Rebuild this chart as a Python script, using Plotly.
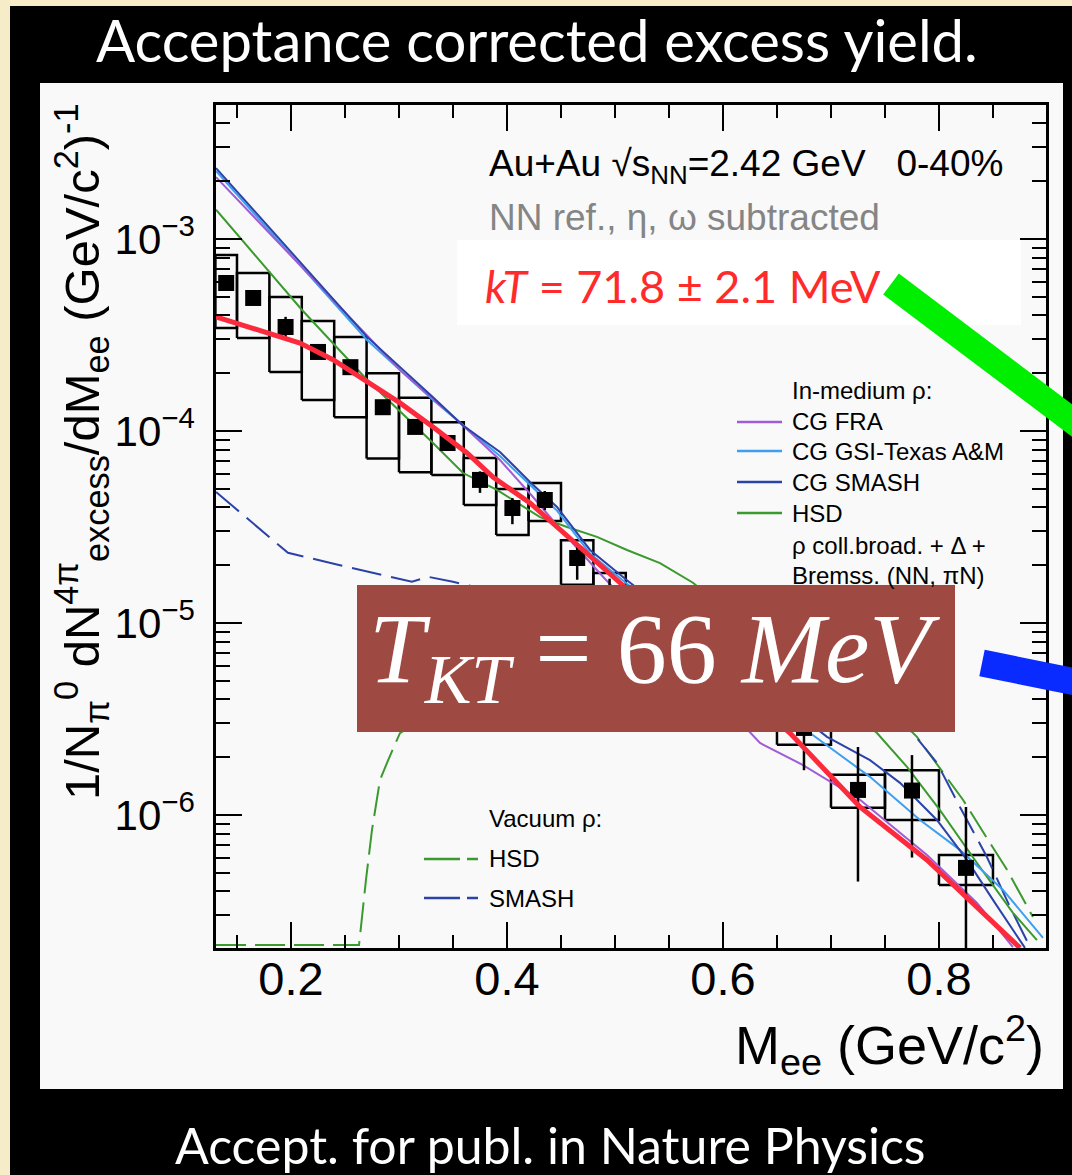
import plotly.graph_objects as go

# ---------------- data ----------------
# measured excess yield points
mass_pts = [0.14, 0.165, 0.195, 0.225, 0.255, 0.285, 0.315, 0.345, 0.375, 0.405,
            0.435, 0.465, 0.495, 0.675, 0.725, 0.775, 0.825]
yield_pts = [5.9e-4, 4.93e-4, 3.48e-4, 2.58e-4, 2.15e-4, 1.33e-4, 1.05e-4, 8.66e-5,
             5.56e-5, 3.97e-5, 4.37e-5, 2.18e-5, 1.40e-5, 2.84e-6, 1.35e-6, 1.34e-6, 5.3e-7]
stat_up = [3.5e-5, 2.5e-5, 4.5e-5, 1.8e-5, 1.5e-5, 1.0e-5, 8e-6, 7e-6, 6e-6, 5e-6,
           5e-6, 4e-6, 3e-6, 1.5e-6, 0.91e-6, 0.71e-6, 5.7e-7]
stat_dn = [3.5e-5, 2.5e-5, 4.0e-5, 1.6e-5, 1.4e-5, 1.0e-5, 8e-6, 7e-6, 8e-6, 7e-6,
           5e-6, 5e-6, 3e-6, 1.13e-6, 0.90e-6, 0.74e-6, 4.9e-7]
bin_half = [0.01, 0.015, 0.015, 0.015, 0.015, 0.015, 0.015, 0.015, 0.015, 0.015,
            0.015, 0.015, 0.015, 0.025, 0.025, 0.025, 0.025]
sys_lo = [3.44e-4, 3.05e-4, 2.03e-4, 1.45e-4, 1.18e-4, 7.2e-5, 6.1e-5, 5.9e-5, 4.12e-5,
          2.87e-5, 3.4e-5, 1.58e-5, 1.0e-5, 2.32e-6, 1.09e-6, 9.4e-7, 4.32e-7]
sys_hi = [8.26e-4, 6.65e-4, 4.99e-4, 3.74e-4, 3.09e-4, 2.0e-4, 1.49e-4, 1.11e-4, 7.23e-5,
          4.99e-5, 5.36e-5, 2.7e-5, 1.82e-5, 3.4e-6, 1.62e-6, 1.71e-6, 6.19e-7]

# thermal fit (kT = 71.8 MeV)
fit_mass = [0.1306, 0.2083, 0.2389, 0.2704, 0.3009, 0.3315, 0.363, 0.387, 0.4213,
            0.5046, 0.662, 0.7269, 0.7889, 0.875]
fit_yield = [3.93e-4, 2.87e-4, 2.35e-4, 1.80e-4, 1.40e-4, 1.05e-4, 7.68e-5, 5.75e-5,
             4.22e-5, 1.62e-5, 2.67e-6, 1.10e-6, 5.83e-7, 2.03e-7]

# in-medium rho models
cg_fra_mass = [0.1306, 0.3009, 0.3537, 0.3935, 0.4241, 0.4556, 0.4889, 0.6343, 0.6741,
               0.7269, 0.7889, 0.8352, 0.8685]
cg_fra_yield = [2.10e-3, 2.08e-4, 1.14e-4, 7.06e-5, 4.53e-5, 2.81e-5, 1.74e-5, 2.37e-6,
                1.82e-6, 1.20e-6, 6.19e-7, 3.48e-7, 2.05e-7]

cg_gsi_mass = [0.1306, 0.2704, 0.3315, 0.3935, 0.4463, 0.4769, 0.5111, 0.6806, 0.7361,
               0.7824, 0.8194, 0.8593, 0.8963]
cg_gsi_yield = [2.26e-3, 2.98e-4, 1.45e-4, 7.4e-5, 3.85e-5, 2.3e-5, 1.6e-5, 2.67e-6,
                1.58e-6, 9.42e-7, 6.58e-7, 4.07e-7, 2.29e-7]

cg_smash_mass = [0.1306, 0.2704, 0.3315, 0.359, 0.3935, 0.4213, 0.4463, 0.4769, 0.5111,
                 0.6963, 0.7361, 0.7639, 0.7981, 0.8259, 0.85, 0.8796]
cg_smash_yield = [2.34e-3, 3.09e-4, 1.50e-4, 1.07e-4, 7.78e-5, 5.42e-5, 4.02e-5, 2.40e-5,
                  1.67e-5, 2.55e-6, 1.93e-6, 1.47e-6, 9.42e-7, 5.83e-7, 3.61e-7, 2.03e-7]

hsd_mass = [0.1306, 0.2102, 0.2704, 0.3315, 0.3593, 0.3907, 0.4306, 0.4556, 0.4833,
            0.5111, 0.5417, 0.5722, 0.7426, 0.7704, 0.8009, 0.8352, 0.8685, 0.8907]
hsd_yield = [1.42e-3, 4.27e-4, 1.85e-4, 8.66e-5, 6.04e-5, 4.93e-5, 3.56e-5, 3.16e-5,
             2.81e-5, 2.40e-5, 2.05e-5, 1.62e-5, 2.67e-6, 1.78e-6, 1.06e-6, 5.62e-7,
             3.09e-7, 2.23e-7]

# vacuum rho models
vac_smash_mass = [0.1306, 0.1972, 0.2454, 0.312, 0.3269, 0.35, 0.45, 0.55, 0.65, 0.72,
                  0.7759, 0.7981, 0.8194, 0.8444, 0.8657, 0.8843]
vac_smash_yield = [4.81e-5, 2.32e-5, 2.00e-5, 1.64e-5, 1.74e-5, 1.64e-5, 1.2e-5, 8e-6,
                   6e-6, 4.5e-6, 2.67e-6, 1.87e-6, 1.10e-6, 6.04e-7, 3.32e-7, 2.05e-7]

vac_hsd_mass = [0.1306, 0.263, 0.2694, 0.275, 0.2824, 0.2889, 0.3009, 0.35, 0.45, 0.55,
                0.65, 0.72, 0.7796, 0.8222, 0.8472, 0.863, 0.887]
vac_hsd_yield = [2.1e-7, 2.1e-7, 4.58e-7, 8.36e-7, 1.52e-6, 1.87e-6, 2.67e-6, 4e-6, 6e-6,
                 7e-6, 7e-6, 5.5e-6, 2.55e-6, 1.20e-6, 7.15e-7, 5.18e-7, 2.94e-7]

x_ticks = [0.2, 0.4, 0.6, 0.8]
x_tick_text = ["0.2", "0.4", "0.6", "0.8"]
y_ticks = [1e-6, 1e-5, 1e-4, 1e-3]
y_tick_text = ["10<sup>\u22126</sup>", "10<sup>\u22125</sup>", "10<sup>\u22124</sup>",
               "10<sup>\u22123</sup>"]
y_minor = [k * 10.0 ** d for d in range(-7, -2) for k in range(2, 10)
           if 2.05e-7 < k * 10.0 ** d < 5e-3]

# ---------------- layout geometry (pixels) ----------------
W, H = 1072, 1175
PL, PR, PT, PB = 216, 1046, 105, 948


def fx(px):
    return (px - PL) / (PR - PL)


def fy(py):
    return (PB - py) / (PB - PT)


C_FRA = "#9f5cd6"
C_GSI = "#3d9ff0"
C_SMASH = "#2b43a6"
C_HSD = "#3a9a2e"
C_FIT = "#fb2a3c"
SANS = "Liberation Sans, Arial, sans-serif"

fig = go.Figure()

# systematic boxes
bx, by = [], []
for m, h, lo, hi in zip(mass_pts, bin_half, sys_lo, sys_hi):
    bx += [m - h, m + h, m + h, m - h, m - h, None]
    by += [lo, lo, hi, hi, lo, None]
fig.add_trace(go.Scatter(x=bx, y=by, mode="lines", line=dict(color="black", width=2.5),
                         hoverinfo="skip"))

# vacuum curves (dashed)
fig.add_trace(go.Scatter(x=vac_hsd_mass, y=vac_hsd_yield, mode="lines",
                         line=dict(color=C_HSD, width=2, dash="30px,9px")))
fig.add_trace(go.Scatter(x=vac_smash_mass, y=vac_smash_yield, mode="lines",
                         line=dict(color=C_SMASH, width=2, dash="30px,10px")))
# in-medium curves
fig.add_trace(go.Scatter(x=hsd_mass, y=hsd_yield, mode="lines",
                         line=dict(color=C_HSD, width=2)))
fig.add_trace(go.Scatter(x=cg_gsi_mass, y=cg_gsi_yield, mode="lines",
                         line=dict(color=C_GSI, width=2)))
fig.add_trace(go.Scatter(x=cg_fra_mass, y=cg_fra_yield, mode="lines",
                         line=dict(color=C_FRA, width=2)))
fig.add_trace(go.Scatter(x=cg_smash_mass, y=cg_smash_yield, mode="lines",
                         line=dict(color=C_SMASH, width=2)))

# data points
fig.add_trace(go.Scatter(
    x=mass_pts, y=yield_pts, mode="markers",
    marker=dict(symbol="square", size=16, color="black"),
    error_y=dict(type="data", symmetric=False, array=stat_up, arrayminus=stat_dn,
                 thickness=2.5, width=0, color="black")))

# thermal fit
fig.add_trace(go.Scatter(x=fit_mass, y=fit_yield, mode="lines",
                         line=dict(color=C_FIT, width=5)))

shapes = [
    dict(type="rect", xref="paper", yref="paper", x0=fx(10), x1=fx(1090),
         y0=fy(1190), y1=fy(6), fillcolor="black", line_width=0, layer="below"),
    dict(type="rect", xref="paper", yref="paper", x0=fx(40), x1=fx(1063),
         y0=fy(1089), y1=fy(83), fillcolor="#f9f9f9", line_width=0, layer="below"),
    dict(type="rect", xref="paper", yref="paper", x0=fx(457), x1=fx(1021),
         y0=fy(325), y1=fy(240), fillcolor="white", line_width=0, layer="above"),
    dict(type="rect", xref="paper", yref="paper", x0=fx(357), x1=fx(955),
         y0=fy(732), y1=fy(585), fillcolor="#9e4a43", line_width=0, layer="above"),
    dict(type="line", xref="paper", yref="paper", x0=fx(891), y0=fy(284),
         x1=fx(1090), y1=fy(434), line=dict(color="#00ee00", width=26), layer="above"),
    dict(type="line", xref="paper", yref="paper", x0=fx(982), y0=fy(663),
         x1=fx(1090), y1=fy(685), line=dict(color="#0a2bff", width=27), layer="above"),
]
# legend sample lines
for yy, col in [(422, C_FRA), (451, C_GSI), (482, C_SMASH), (513, C_HSD)]:
    shapes.append(dict(type="line", xref="paper", yref="paper", x0=fx(737), x1=fx(782),
                       y0=fy(yy), y1=fy(yy), line=dict(color=col, width=2.5), layer="above"))
for yy, col in [(859, C_HSD), (898, C_SMASH)]:
    shapes.append(dict(type="line", xref="paper", yref="paper", x0=fx(424), x1=fx(478),
                       y0=fy(yy), y1=fy(yy), line=dict(color=col, width=2.5, dash="36px,7px"),
                       layer="above"))


def ann(text, px, py, size, color="black", family=SANS, xanchor="left", yanchor="middle",
        angle=0):
    return dict(text=text, x=fx(px), y=fy(py), xref="paper", yref="paper",
                showarrow=False, xanchor=xanchor, yanchor=yanchor, textangle=angle,
                font=dict(size=size, color=color, family=family))


NB = "\u00a0"
annotations = [
    ann("Acceptance corrected excess yield.", 537, 40, 58, "white", "Lato", "center"),
    ann("Accept. for publ. in Nature Physics", 550, 1145, 50, "white", "Lato", "center"),
    ann("1/N<sub>π</sub><sup>0</sup> dN<sup>4π</sup><sub>excess</sub>/dM<sub>ee</sub> "
        "(GeV/c<sup>2</sup>)<sup>-1</sup>", 81, 452, 49, angle=-90, xanchor="center"),
    ann("M<sub>ee</sub> (GeV/c<sup>2</sup>)", 1046, 1045, 54, xanchor="right"),
    ann("Au+Au √s<sub>NN</sub>=2.42 GeV" + NB * 3 + "0-40%", 487, 166, 37),
    ann("NN ref., η, ω subtracted", 487, 217, 37, "#858585"),
    ann("<i>kT</i> = 71.8 ± 2.1 MeV", 483, 286, 45, "#ff2a2a", "Lato"),
    ann("<i>T</i><sub><i>KT</i></sub> = 66 <i>MeV</i>", 654, 655, 100, "white",
        "Liberation Serif, Times New Roman, serif", "center"),
    ann("In-medium ρ:", 790, 390, 24),
    ann("CG FRA", 790, 421, 24),
    ann("CG GSI-Texas A&M", 790, 451, 24),
    ann("CG SMASH", 790, 482, 24),
    ann("HSD", 790, 513, 24),
    ann("ρ coll.broad. + Δ +", 790, 545, 24),
    ann("Bremss. (NN, πN)", 790, 575, 24),
    ann("Vacuum ρ:", 487, 818, 24),
    ann("HSD", 487, 858, 24),
    ann("SMASH", 487, 898, 24),
]

fig.update_layout(
    width=W, height=H, showlegend=False,
    margin=dict(l=PL, r=W - PR, t=PT, b=H - PB, pad=0),
    paper_bgcolor="#f6ecc8", plot_bgcolor="#fafafa",
    shapes=shapes, annotations=annotations,
    xaxis=dict(range=[0.13056, 0.8991], tickmode="array", tickvals=x_ticks,
               ticktext=x_tick_text, ticks="inside", ticklen=26, tickwidth=2,
               tickcolor="black", showline=True, linecolor="black", linewidth=2.5,
               mirror="ticks", showgrid=False, zeroline=False, ticklabelstandoff=-12,
               tickfont=dict(family=SANS, size=47, color="black"),
               minor=dict(tickmode="linear", tick0=0, dtick=0.05, ticks="inside",
                          ticklen=13, tickwidth=2, tickcolor="black", showgrid=False)),
    yaxis=dict(type="log", range=[-6.693, -2.302], tickmode="array", tickvals=y_ticks,
               ticktext=y_tick_text, ticks="inside", ticklen=26, tickwidth=2,
               tickcolor="black", showline=True, linecolor="black", linewidth=2.5,
               mirror="ticks", showgrid=False, zeroline=False, ticklabelstandoff=10,
               tickfont=dict(family=SANS, size=42, color="black"),
               minor=dict(tickmode="array", tickvals=y_minor, ticks="inside",
                          ticklen=14, tickwidth=2, tickcolor="black", showgrid=False)),
)

fig.write_html("out.html")
